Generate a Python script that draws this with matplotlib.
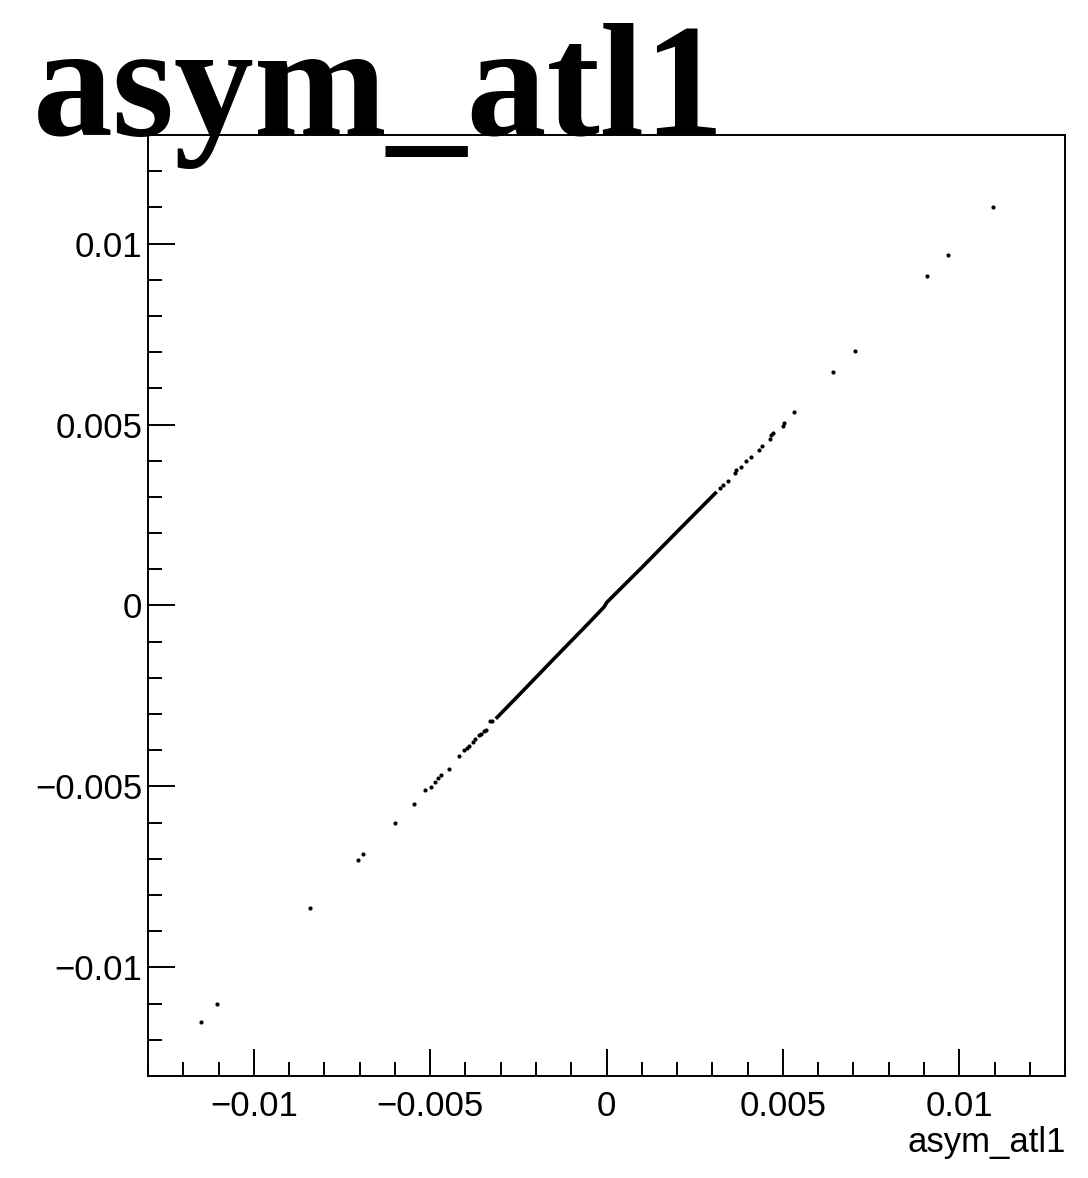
import matplotlib
matplotlib.use("Agg")
import matplotlib.pyplot as plt
from matplotlib.ticker import MultipleLocator

# dense core of the scatter (reads as a solid line)
core_x = [-0.00314, -0.0025, -0.0015, -0.0005, -0.00007, 0.00001, 0.0010, 0.0020, 0.00312]
core_y = [-0.00313, -0.00249, -0.00148, -0.00048, -0.00004, 0.00009, 0.00105, 0.00204, 0.00314]

# isolated points above the core
hi_x = [0.00321, 0.00331, 0.00345, 0.00364, 0.00368, 0.00380, 0.00396, 0.00410, 0.00431,
        0.00441, 0.00462, 0.00467, 0.00472, 0.00501, 0.00502, 0.00531, 0.00643, 0.00704,
        0.00907, 0.00967, 0.01096]
hi_y = [0.00325, 0.00334, 0.00345, 0.00367, 0.00374, 0.00382, 0.00399, 0.00410, 0.00431,
        0.00440, 0.00460, 0.00470, 0.00477, 0.00497, 0.00503, 0.00534, 0.00644, 0.00704,
        0.00910, 0.00969, 0.01101]

# isolated points below the core
lo_x = [-0.00324, -0.00331, -0.00341, -0.00347, -0.00357, -0.00362, -0.00373, -0.00380,
        -0.00390, -0.00395, -0.00404, -0.00418, -0.00448, -0.00470, -0.00477, -0.00486,
        -0.00498, -0.00514, -0.00547, -0.00600, -0.00690, -0.00705, -0.00841, -0.01105,
        -0.01150]
lo_y = [-0.00320, -0.00320, -0.00343, -0.00347, -0.00354, -0.00359, -0.00370, -0.00378,
        -0.00389, -0.00393, -0.00398, -0.00416, -0.00451, -0.00467, -0.00476, -0.00488,
        -0.00502, -0.00511, -0.00548, -0.00600, -0.00688, -0.00702, -0.00835, -0.01100,
        -0.01152]

major_ticks = [-0.01, -0.005, 0, 0.005, 0.01]
tick_labels = ["\u22120.01", "\u22120.005", "0", "0.005", "0.01"]

plt.rcParams['font.family'] = ['Liberation Sans', 'DejaVu Sans']

fig = plt.figure(figsize=(10.88, 11.78), dpi=100)
ax = fig.add_axes([0.136, 0.0866, 0.843, 0.7988])

ax.plot(core_x, core_y, '-', color='black', lw=2.6, solid_capstyle='butt')
ax.plot(hi_x, hi_y, 'o', color='black', ms=3.0, mew=0)
ax.plot(lo_x, lo_y, 'o', color='black', ms=3.0, mew=0)

ax.set_xlim(-0.013, 0.013)
ax.set_ylim(-0.013, 0.013)

for a in (ax.xaxis, ax.yaxis):
    a.set_ticks(major_ticks)
    a.set_ticklabels(tick_labels)
    a.set_minor_locator(MultipleLocator(0.001))

ax.tick_params(which='both', direction='in', top=False, right=False, width=1.4, labelsize=25)
ax.tick_params(which='major', length=19.5)
ax.tick_params(which='minor', length=10)
ax.tick_params(axis='x', which='major', pad=10)
ax.tick_params(axis='y', which='major', pad=4)
for s in ax.spines.values():
    s.set_linewidth(1.4)

fig.text(0.980, 1 - 1152 / 1178, "asym_atl1", ha='right', va='baseline', fontsize=25)

fig.text(0.030, 1 - 135 / 1178, "asym_atl1", ha='left', va='baseline',
         fontsize=115, fontweight='bold', family='Liberation Serif')

fig.savefig("out.png", dpi=100)
